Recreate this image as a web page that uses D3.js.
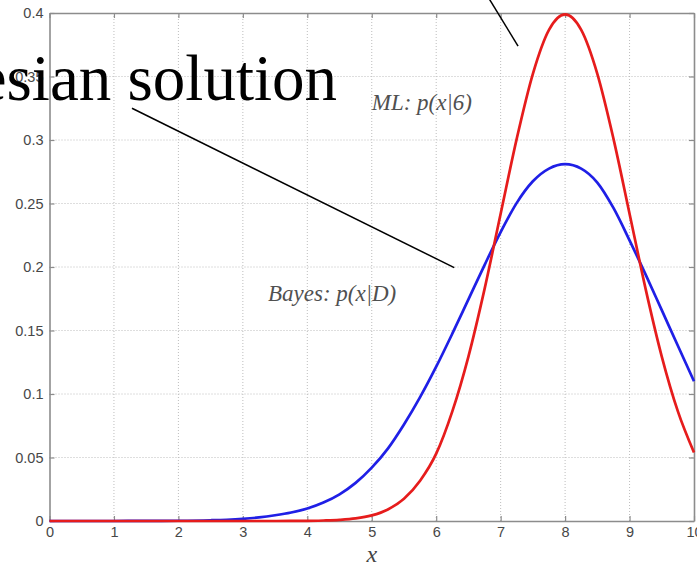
<!DOCTYPE html>
<html>
<head>
<meta charset="utf-8">
<script src="https://cdn.jsdelivr.net/npm/d3@7"></script>
<style>
  html, body { margin: 0; padding: 0; background: #fff; }
  svg { display: block; }
</style>
</head>
<body>
<svg id="chart" width="697" height="565"></svg>
<script>
// Sample positions along x
const xValues = [0, 0.5, 1, 1.5, 2, 2.5, 2.75, 3, 3.25, 3.5, 3.75, 4, 4.25, 4.5, 4.75, 5, 5.25, 5.5, 5.75,
  6, 6.25, 6.5, 6.75, 7, 7.25, 7.5, 7.75, 8, 8.25, 8.5, 8.75, 9, 9.25, 9.5, 9.75, 10];

// Maximum-likelihood density p(x|θ)
const mlValues = [0, 0, 0, 0, 0, 0, 0, 0, 0, 0, 0.00004, 0.0001, 0.0004, 0.0009, 0.002, 0.0044, 0.0091,
  0.0175, 0.0317, 0.053, 0.0863, 0.1295, 0.1826, 0.242, 0.3011, 0.3521, 0.3867, 0.3989, 0.3867, 0.3521,
  0.3011, 0.242, 0.1826, 0.1295, 0.0863, 0.054];

// Bayesian predictive density p(x|D)
const bayesValues = [0, 0, 0, 0.0001, 0.0002, 0.0006, 0.001, 0.0017, 0.0028, 0.0045, 0.0067, 0.0098,
  0.0145, 0.021, 0.03, 0.042, 0.057, 0.076, 0.0975, 0.1215, 0.1475, 0.1745, 0.2015, 0.2275, 0.2505,
  0.2675, 0.2775, 0.281, 0.2775, 0.2665, 0.2465, 0.221, 0.194, 0.166, 0.138, 0.11];

const xTicks = [0, 1, 2, 3, 4, 5, 6, 7, 8, 9, 10];
const yTicks = [0, 0.05, 0.1, 0.15, 0.2, 0.25, 0.3, 0.35, 0.4];
const yTickLabels = ["0", "0.05", "0.1", "0.15", "0.2", "0.25", "0.3", "0.35", "0.4"];

const svg = d3.select("#chart");
const plotLeft = 49.5, plotRight = 694, plotTop = 13, plotBottom = 521;

const x = d3.scaleLinear().domain([0, 10]).range([plotLeft, plotRight]);
const y = d3.scaleLinear().domain([0, 0.4]).range([plotBottom, plotTop]);

// dotted grid
const grid = svg.append("g").attr("stroke", "#bdbdbd").attr("stroke-width", 1)
  .attr("stroke-dasharray", "1,2");
grid.selectAll("line.v").data(xTicks.slice(1, -1)).join("line").attr("class", "v")
  .attr("x1", d => x(d)).attr("x2", d => x(d)).attr("y1", plotTop).attr("y2", plotBottom);
grid.selectAll("line.h").data(yTicks.slice(1, -1)).join("line").attr("class", "h")
  .attr("x1", plotLeft).attr("x2", plotRight).attr("y1", d => y(d)).attr("y2", d => y(d));

// axes, MATLAB-style inward ticks
const tickFont = g => g.selectAll("text")
  .attr("font-family", "Liberation Sans, Arial, sans-serif")
  .attr("font-size", 14.5).attr("fill", "#474747");
const axisStyle = g => {
  g.select(".domain").attr("stroke", "#8c8c8c").attr("stroke-width", 1.6);
  g.selectAll(".tick line").attr("stroke", "#8c8c8c").attr("stroke-width", 1.2);
};

svg.append("g").attr("transform", `translate(0,${plotBottom})`)
  .call(d3.axisBottom(x).tickValues(xTicks).tickSize(-5).tickPadding(6).tickSizeOuter(0))
  .call(axisStyle).call(tickFont);
svg.append("g").attr("transform", `translate(0,${plotTop})`)
  .call(d3.axisTop(x).tickValues(xTicks).tickSize(-5).tickFormat("").tickSizeOuter(0))
  .call(axisStyle);
svg.append("g").attr("transform", `translate(${plotLeft},0)`)
  .call(d3.axisLeft(y).tickValues(yTicks).tickSize(-5).tickPadding(6).tickSizeOuter(0)
    .tickFormat((d, i) => yTickLabels[i]))
  .call(axisStyle).call(tickFont);
svg.append("g").attr("transform", `translate(${plotRight},0)`)
  .call(d3.axisRight(y).tickValues(yTicks).tickSize(-5).tickFormat("").tickSizeOuter(0))
  .call(axisStyle);

// density curves
const line = vals => d3.line()
  .x((d, i) => x(xValues[i]))
  .y(d => y(d))
  .curve(d3.curveMonotoneX)(vals);

svg.append("path").attr("d", line(bayesValues))
  .attr("fill", "none").attr("stroke", "#1f1fe6").attr("stroke-width", 2.7);
svg.append("path").attr("d", line(mlValues))
  .attr("fill", "none").attr("stroke", "#e61c1c").attr("stroke-width", 2.7);

// x-axis label
svg.append("text").attr("x", x(5)).attr("y", 562).attr("text-anchor", "middle")
  .attr("font-family", "Liberation Serif, Times New Roman, serif").attr("font-style", "italic")
  .attr("font-size", 24).attr("fill", "#444").text("x");

// curve annotations
const annoFont = "Liberation Serif, Times New Roman, serif";
svg.append("text").attr("x", x(5.0)).attr("y", y(0.3236))
  .attr("font-family", annoFont).attr("font-style", "italic").attr("font-size", 23)
  .attr("fill", "#505050").text("ML: p(x|6)");
svg.append("text").attr("x", x(3.39)).attr("y", y(0.1735))
  .attr("font-family", annoFont).attr("font-style", "italic").attr("font-size", 23)
  .attr("fill", "#505050").text("Bayes: p(x|D)");

// pointer lines and heading
const pointers = [
  [[1.28, 0.325], [6.28, 0.1995]],
  [[6.80, 0.413], [7.27, 0.374]]
];
svg.append("g").selectAll("line").data(pointers).join("line")
  .attr("x1", d => x(d[0][0])).attr("y1", d => y(d[0][1]))
  .attr("x2", d => x(d[1][0])).attr("y2", d => y(d[1][1]))
  .attr("stroke", "#000").attr("stroke-width", 1.5);

svg.append("text").attr("x", 337).attr("y", 100).attr("text-anchor", "end")
  .attr("font-family", annoFont).attr("font-size", 65).attr("fill", "#000")
  .text("Bayesian solution");
</script>
</body>
</html>
